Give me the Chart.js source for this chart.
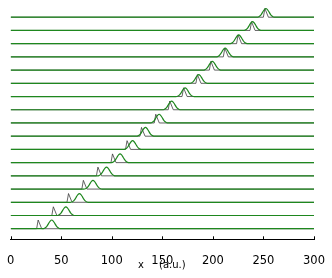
<!DOCTYPE html>
<html>
<head>
<meta charset="utf-8" />
<script src="https://cdn.jsdelivr.net/npm/chart.js@4/dist/chart.umd.min.js"></script>
<style>
body { margin: 0; background: #fff; }
</style>
</head>
<body>
<canvas id="myChart" width="332" height="278"></canvas>
<script>

// peak centres per row, bottom row first (x, a.u.)
const darkPeaks = [27.2, 42.2, 57.2, 71.9, 86.3, 100.7, 115.1, 129.4, 143.5, 157.3, 171, 184.7, 198, 211.8, 224.9, 238.2, 251.4];
const greenPeaks = [40.6, 54.6, 68, 81.4, 94.8, 108.2, 120.6, 133.3, 146.8, 159.2, 172.5, 186, 199.4, 212.1, 225.5, 239.2, 252.4];

// peak outlines: offset from centre -> height above baseline
const darkOffsets = [-1.5, 0, 3.5];
const darkHeights = [0, 0.66, 0];
const greenOffsets = [-9, -7.5, -6, -4.5, -3, -1.5, 0, 1.5, 3, 4.5, 6, 7.5, 9];
const greenHeights = [0, 0.02, 0.09, 0.22, 0.41, 0.58, 0.66, 0.58, 0.41, 0.22, 0.09, 0.02, 0];

const xTicks = [0, 50, 100, 150, 200, 250, 300];
const xMin = 0, xMax = 300;
const xTitle = ['x', '(a.u.)'];

function rowPoints(row, centre, offsets, heights) {
	const pts = [{x: xMin, y: row}];
	offsets.forEach((o, i) => pts.push({x: centre + o, y: row + heights[i]}));
	pts.push({x: xMax, y: row});
	return pts;
}

const datasets = [];
darkPeaks.forEach((c, row) => {
	datasets.push({
		data: rowPoints(row, c, darkOffsets, darkHeights),
		borderColor: 'rgba(50,50,50,0.75)',
		borderWidth: 1,
		pointRadius: 0,
		tension: 0,
		order: 2
	});
});
greenPeaks.forEach((c, row) => {
	datasets.push({
		data: rowPoints(row, c, greenOffsets, greenHeights),
		borderColor: 'rgb(30,135,30)',
		borderWidth: 1.2,
		pointRadius: 0,
		cubicInterpolationMode: 'monotone',
		order: 1
	});
});

// little ticks pointing up into the plot, and the split axis title
const axisExtras = {
	id: 'axis_extras',
	afterDraw: (chart) => {
		const {ctx} = chart;
		const sx = chart.scales.x;
		ctx.save();
		ctx.strokeStyle = '#000';
		ctx.lineWidth = 1;
		xTicks.forEach(v => {
			const px = Math.round(sx.getPixelForValue(v)) + 0.5;
			ctx.beginPath();
			ctx.moveTo(px, sx.top);
			ctx.lineTo(px, sx.top - 3);
			ctx.stroke();
		});

		const mid = (sx.left + sx.right) / 2;
		ctx.fillStyle = '#000';
		ctx.font = "10px 'DejaVu Sans'";
		ctx.textBaseline = 'middle';
		ctx.textAlign = 'center';
		ctx.fillText(xTitle[0], mid - 21.3, 265);
		ctx.textAlign = 'left';
		ctx.fillText(xTitle[1], mid - 3.3, 265);
		ctx.restore();
	}
};

new Chart(document.getElementById('myChart'), {
	type: 'line',
	data: {datasets: datasets},
	options: {
		responsive: false,
		animation: false,
		layout: {padding: {left: 9, right: 16.7, top: 4, bottom: 0}},
		plugins: {legend: {display: false}, tooltip: {enabled: false}},
		scales: {
			x: {
				type: 'linear',
				min: xMin,
				max: xMax,
				afterBuildTicks: (s) => { s.ticks = xTicks.map(v => ({value: v})); },
				afterFit: (s) => { s.height = 38.7; },
				grid: {display: false},
				border: {display: true, color: '#000', width: 1},
				ticks: {
					color: '#000',
					font: {family: 'DejaVu Sans', size: 11.5},
					padding: 7,
					maxRotation: 0
				},
				title: {display: false}
			},
			y: {
				display: false,
				min: -0.8,
				max: 17.0
			}
		}
	},
	plugins: [axisExtras]
});
</script>
</body>
</html>
